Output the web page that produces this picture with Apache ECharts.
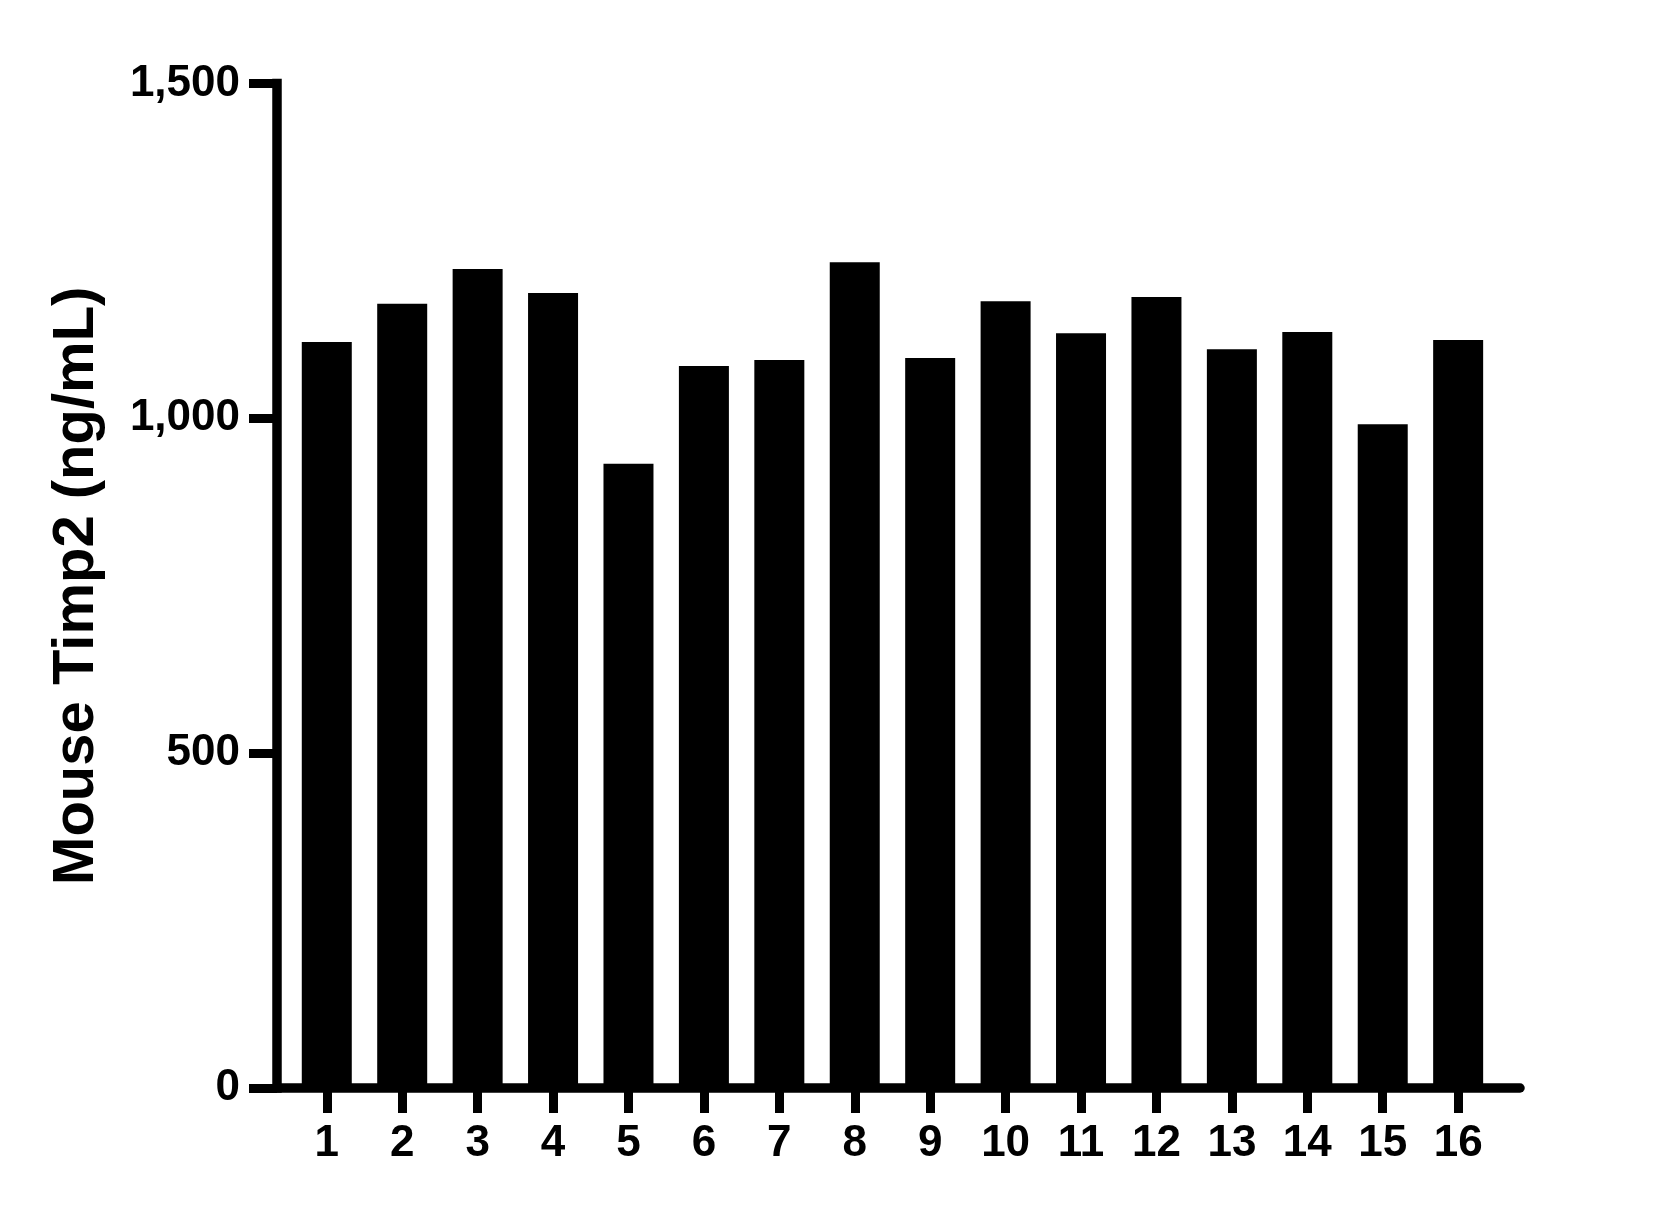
<!DOCTYPE html>
<html>
<head>
<meta charset="utf-8">
<script src="https://cdn.jsdelivr.net/npm/echarts@6/dist/echarts.min.js"></script>
<style>
  html, body { margin: 0; padding: 0; background: #fff; }
  #chart { width: 1654px; height: 1208px; }
</style>
</head>
<body>
<div id="chart"></div>
<script>
// sample numbers on the x axis
const samples = [1, 2, 3, 4, 5, 6, 7, 8, 9, 10, 11, 12, 13, 14, 15, 16];
// Mouse Timp2 concentration, ng/mL
const timp2 = [1114, 1171, 1223, 1187, 932, 1078, 1087, 1233, 1090, 1175, 1127, 1181, 1103, 1129, 991, 1117];
// y axis ticks
const yTicks = [0, 500, 1000, 1500];

const font = '"Liberation Sans", Arial, Helvetica, sans-serif';

const chart = echarts.init(document.getElementById('chart'));

const option = {
    animation: false,
    backgroundColor: '#fff',
    grid: {
        left: 277,
        right: 134,
        top: 83.5,
        bottom: 120,
        containLabel: false,
    },
    xAxis: {
        type: 'value',
        min: 0.34,
        max: 16.82,
        splitLine: { show: false },
        axisLine: {
            show: true,
            onZero: false,
            lineStyle: { color: '#000', width: 9.5 },
        },
        axisTick: {
            show: true,
            customValues: samples,
            length: 25,
            lineStyle: { color: '#000', width: 9 },
        },
        axisLabel: {
            customValues: samples,
            margin: 34,
            color: '#000',
            fontFamily: font,
            fontWeight: 'bold',
            fontSize: 44,
        },
    },
    yAxis: {
        type: 'value',
        min: yTicks[0],
        max: yTicks[yTicks.length - 1],
        interval: 500,
        splitLine: { show: false },
        axisLine: {
            show: true,
            lineStyle: { color: '#000', width: 9.5, cap: 'square' },
        },
        axisTick: {
            show: true,
            length: 28,
            lineStyle: { color: '#000', width: 9 },
        },
        axisLabel: {
            margin: 37,
            color: '#000',
            fontFamily: font,
            fontWeight: 'bold',
            fontSize: 44,
            formatter: v => v.toLocaleString('en-US'),
        },
        name: 'Mouse Timp2 (ng/mL)',
        nameLocation: 'middle',
        nameRotate: 90,
        nameGap: 171,
        nameTextStyle: {
            color: '#000',
            fontFamily: font,
            fontWeight: 'bold',
            fontSize: 58,
        },
    },
    series: [
        {
            type: 'bar',
            data: samples.map((s, i) => [s, timp2[i]]),
            barWidth: 50,
            itemStyle: { color: '#000' },
            z: 1,
        }
    ]
};

chart.setOption(option);
</script>
</body>
</html>
